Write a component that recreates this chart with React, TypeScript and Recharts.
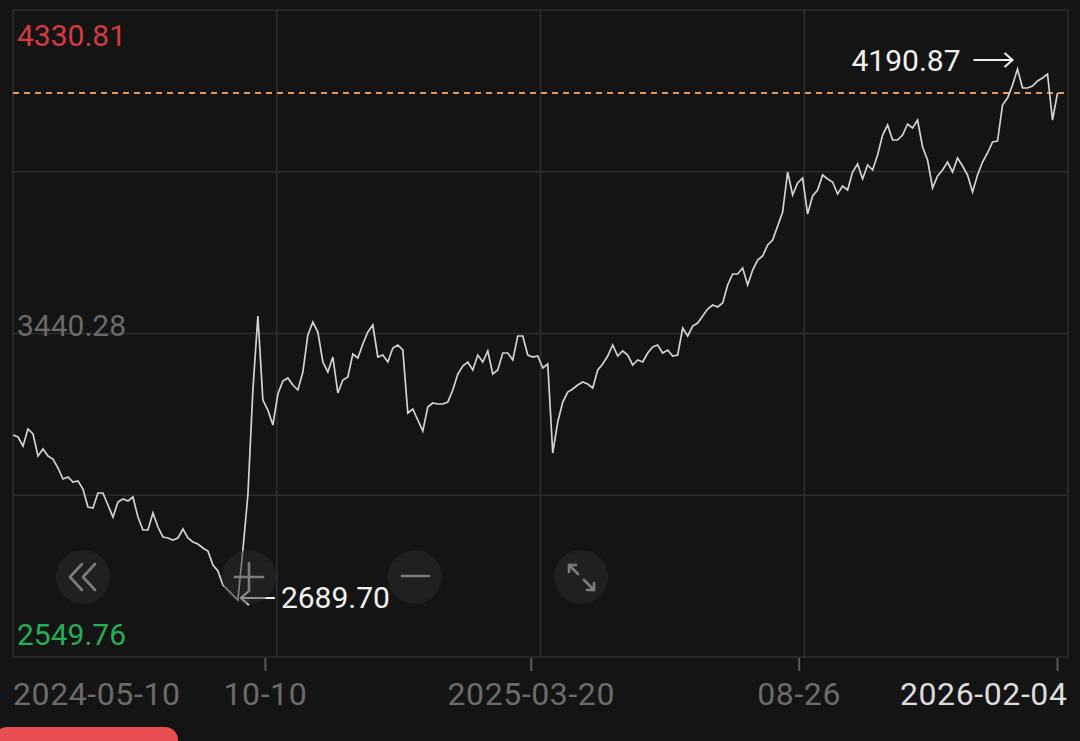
import { LineChart, Line, XAxis, YAxis, CartesianGrid, ReferenceLine, ReferenceDot } from 'recharts'

// closing values, sampled about every two trading days from 2024-05-10 to 2026-02-04
const closes = [
  3160.9, 3155.4, 3130.6, 3177.4, 3163.6, 3103.1, 3122.3, 3103.1, 3094.8, 3070.0,
  3039.8, 3045.3, 3031.5, 3034.2, 3012.2, 2962.7, 2959.9, 3001.2, 3001.2, 2968.2,
  2935.1, 2976.4, 2984.7, 2979.2, 2990.2, 2935.1, 2899.4, 2899.4, 2946.2, 2907.6,
  2880.1, 2877.3, 2871.8, 2877.3, 2902.1, 2877.3, 2866.3, 2860.8, 2849.8, 2841.6,
  2803.0, 2786.5, 2748.0, 2734.2, 2720.4, 2706.7, 2844.3, 2995.7, 3284.8, 3488.5,
  3257.2, 3229.7, 3188.4, 3273.7, 3309.5, 3317.8, 3298.5, 3284.8, 3334.3, 3436.2,
  3471.9, 3444.4, 3361.8, 3334.3, 3375.6, 3276.5, 3312.3, 3320.5, 3383.9, 3372.8,
  3411.4, 3444.4, 3463.7, 3375.6, 3381.1, 3361.8, 3400.4, 3408.6, 3394.9, 3221.4,
  3232.4, 3202.2, 3171.9, 3238.0, 3249.0, 3246.2, 3246.2, 3251.7, 3284.8, 3328.8,
  3350.8, 3361.8, 3339.8, 3381.1, 3361.8, 3392.1, 3328.8, 3339.8, 3386.6, 3386.6,
  3367.3, 3433.4, 3433.4, 3381.1, 3375.6, 3378.3, 3345.3, 3356.3, 3111.3, 3196.7,
  3251.7, 3279.2, 3287.5, 3298.5, 3306.8, 3301.3, 3290.3, 3339.8, 3356.3, 3378.3,
  3408.6, 3378.3, 3392.1, 3381.1, 3353.6, 3367.3, 3361.8, 3386.6, 3403.1, 3408.6,
  3386.6, 3394.9, 3378.3, 3381.1, 3455.4, 3433.4, 3460.9, 3469.2, 3488.5, 3507.7,
  3518.7, 3513.2, 3524.2, 3573.8, 3604.1, 3604.1, 3620.6, 3573.8, 3615.1, 3642.6,
  3653.6, 3683.9, 3697.7, 3736.2, 3774.8, 3884.9, 3821.5, 3854.6, 3868.3, 3769.2,
  3818.8, 3835.3, 3876.6, 3865.6, 3857.3, 3824.3, 3846.3, 3835.3, 3884.9, 3906.9,
  3865.6, 3904.1, 3890.4, 3931.7, 3986.7, 4014.2, 3972.9, 3972.9, 3986.7, 4017.0,
  4006.0, 4028.0, 3953.7, 3917.9, 3840.8, 3873.9, 3890.4, 3912.4, 3884.9, 3923.4,
  3901.4, 3876.6, 3829.8, 3876.6, 3912.4, 3937.2, 3967.4, 3970.2, 4069.3, 4088.6,
  4124.4, 4168.4, 4116.1, 4116.1, 4121.6, 4135.4, 4143.6, 4154.6, 4028.0, 4102.3,
]

const dateTickPos = [0, 50.5, 103.7, 157.3, 209]
const dateTickText = ['2024-05-10', '10-10', '2025-03-20', '08-26', '2026-02-04']
const priceTicks = [2549.76, 3440.28, 4330.81]
const priceTickColors = ['#27ad56', '#6a6a6a', '#d43a40']
const highLabel = '4190.87'
const lowLabel = '2689.70'

const data = closes.map((v, i) => ({ i, v }))
const lastClose = closes[closes.length - 1]
const maxIdx = closes.indexOf(Math.max(...closes))
const minIdx = closes.indexOf(Math.min(...closes))

const FONT = 'Roboto, "Noto Sans", sans-serif'

function DateTick({ x, y, payload }: any) {
  const k = dateTickPos.indexOf(payload.value)
  const isLast = k === dateTickText.length - 1
  const anchor = k === 0 ? 'start' : isLast ? 'end' : 'middle'
  return (
    <g>
      {k > 0 && <line x1={x} x2={x} y1={y + 1} y2={y + 14} stroke="#595959" strokeWidth={2} />}
      <text x={isLast ? x + 10 : x} y={y + 48} textAnchor={anchor} fill={isLast ? '#dcdcdc' : '#6b6b6b'}
        fontSize={32} letterSpacing={0.6} fontFamily={FONT}>{dateTickText[k]}</text>
    </g>
  )
}

const priceLabel = (k: number) => ({ viewBox }: any) => {
  const dy = k === 0 ? -12 : k === 1 ? 2 : 36
  return (
    <text x={viewBox.x + 4} y={viewBox.y + dy} textAnchor="start" fill={priceTickColors[k]}
      fontSize={30} fontFamily={FONT}>{priceTicks[k].toFixed(2)}</text>
  )
}

const HighMark = ({ cx, cy }: any) => (
  <g>
    <text x={cx - 57} y={cy + 2} textAnchor="end" fill="#f2f2f2" fontSize={30} fontFamily={FONT}>{highLabel}</text>
    <line x1={cx - 44} y1={cy - 9} x2={cx - 5} y2={cy - 9} stroke="#f2f2f2" strokeWidth={2} />
    <polyline points={`${cx - 13},${cy - 16} ${cx - 5},${cy - 9} ${cx - 13},${cy - 2}`} fill="none" stroke="#f2f2f2" strokeWidth={2} />
  </g>
)

const LowMark = ({ cx, cy }: any) => (
  <g>
    <line x1={cx + 3} y1={cy - 2} x2={cx + 37} y2={cy - 2} stroke="#f2f2f2" strokeWidth={2} />
    <polyline points={`${cx + 11},${cy - 9} ${cx + 3},${cy - 2} ${cx + 11},${cy + 5}`} fill="none" stroke="#f2f2f2" strokeWidth={2} />
    <text x={cx + 43} y={cy + 8} fill="#f2f2f2" fontSize={30} fontFamily={FONT}>{lowLabel}</text>
  </g>
)

const quarters = (start: number, size: number) => [0, 1, 2, 3, 4].map(k => start + (size * k) / 4)

export default function App() {
  return (
    <div style={{ position: 'absolute', left: 0, top: 0, width: 1080, height: 741, background: '#141414', overflow: 'hidden' }}>
      <LineChart width={1080} height={741} data={data} margin={{ top: 10, left: 13, right: 12, bottom: 14 }}>
        <CartesianGrid stroke="#2d2d2d" strokeWidth={1.6}
          horizontalCoordinatesGenerator={({ offset }: any) => quarters(offset.top, offset.height)}
          verticalCoordinatesGenerator={({ offset }: any) => quarters(offset.left, offset.width)} />
        <XAxis dataKey="i" type="number" domain={[0, 211.1]} ticks={dateTickPos} interval={0}
          height={70} axisLine={false} tickLine={false} tickSize={0} tickMargin={0} tick={<DateTick />} />
        <YAxis type="number" domain={[priceTicks[0], priceTicks[2]]} hide />
        {priceTicks.map((t, k) => (
          <ReferenceLine key={t} y={t} stroke="none" strokeOpacity={0} label={priceLabel(k)} />
        ))}
        <ReferenceLine y={lastClose} stroke="#e09a5c" strokeWidth={2} strokeDasharray="6 5" />
        <Line type="linear" dataKey="v" stroke="#d2d2d2" strokeWidth={1.7} dot={false} isAnimationActive={false} />
        <ReferenceDot x={maxIdx} y={closes[maxIdx]} r={0} shape={<HighMark />} />
        <ReferenceDot x={minIdx} y={closes[minIdx]} r={0} shape={<LowMark />} />
      </LineChart>

      <svg width={1080} height={741} style={{ position: 'absolute', left: 0, top: 0, pointerEvents: 'none' }}>
        <g fill="rgba(44,44,44,0.5)">
          <circle cx={83} cy={577} r={27} />
          <circle cx={249} cy={577} r={27} />
          <circle cx={415} cy={577} r={27} />
          <circle cx={581} cy={577} r={27} />
        </g>
        <g stroke="#7c7c7c" strokeWidth={2.6} fill="none" strokeLinecap="round" strokeLinejoin="round">
          <polyline points="82,564 70,577 82,590" />
          <polyline points="95,564 83,577 95,590" />
          <line x1={235} y1={577} x2={263} y2={577} />
          <line x1={249} y1={563} x2={249} y2={591} />
          <line x1={402} y1={576} x2={429} y2={576} />
          <line x1={569} y1={565} x2={578} y2={574} />
          <polyline points="569,572 569,565 576,565" />
          <line x1={584} y1={580} x2={594} y2={590} />
          <polyline points="594,583 594,590 587,590" />
        </g>
      </svg>

      <div style={{ position: 'absolute', left: -6, top: 727, width: 184, height: 26, borderRadius: 13, background: '#e84e52' }} />
    </div>
  )
}
